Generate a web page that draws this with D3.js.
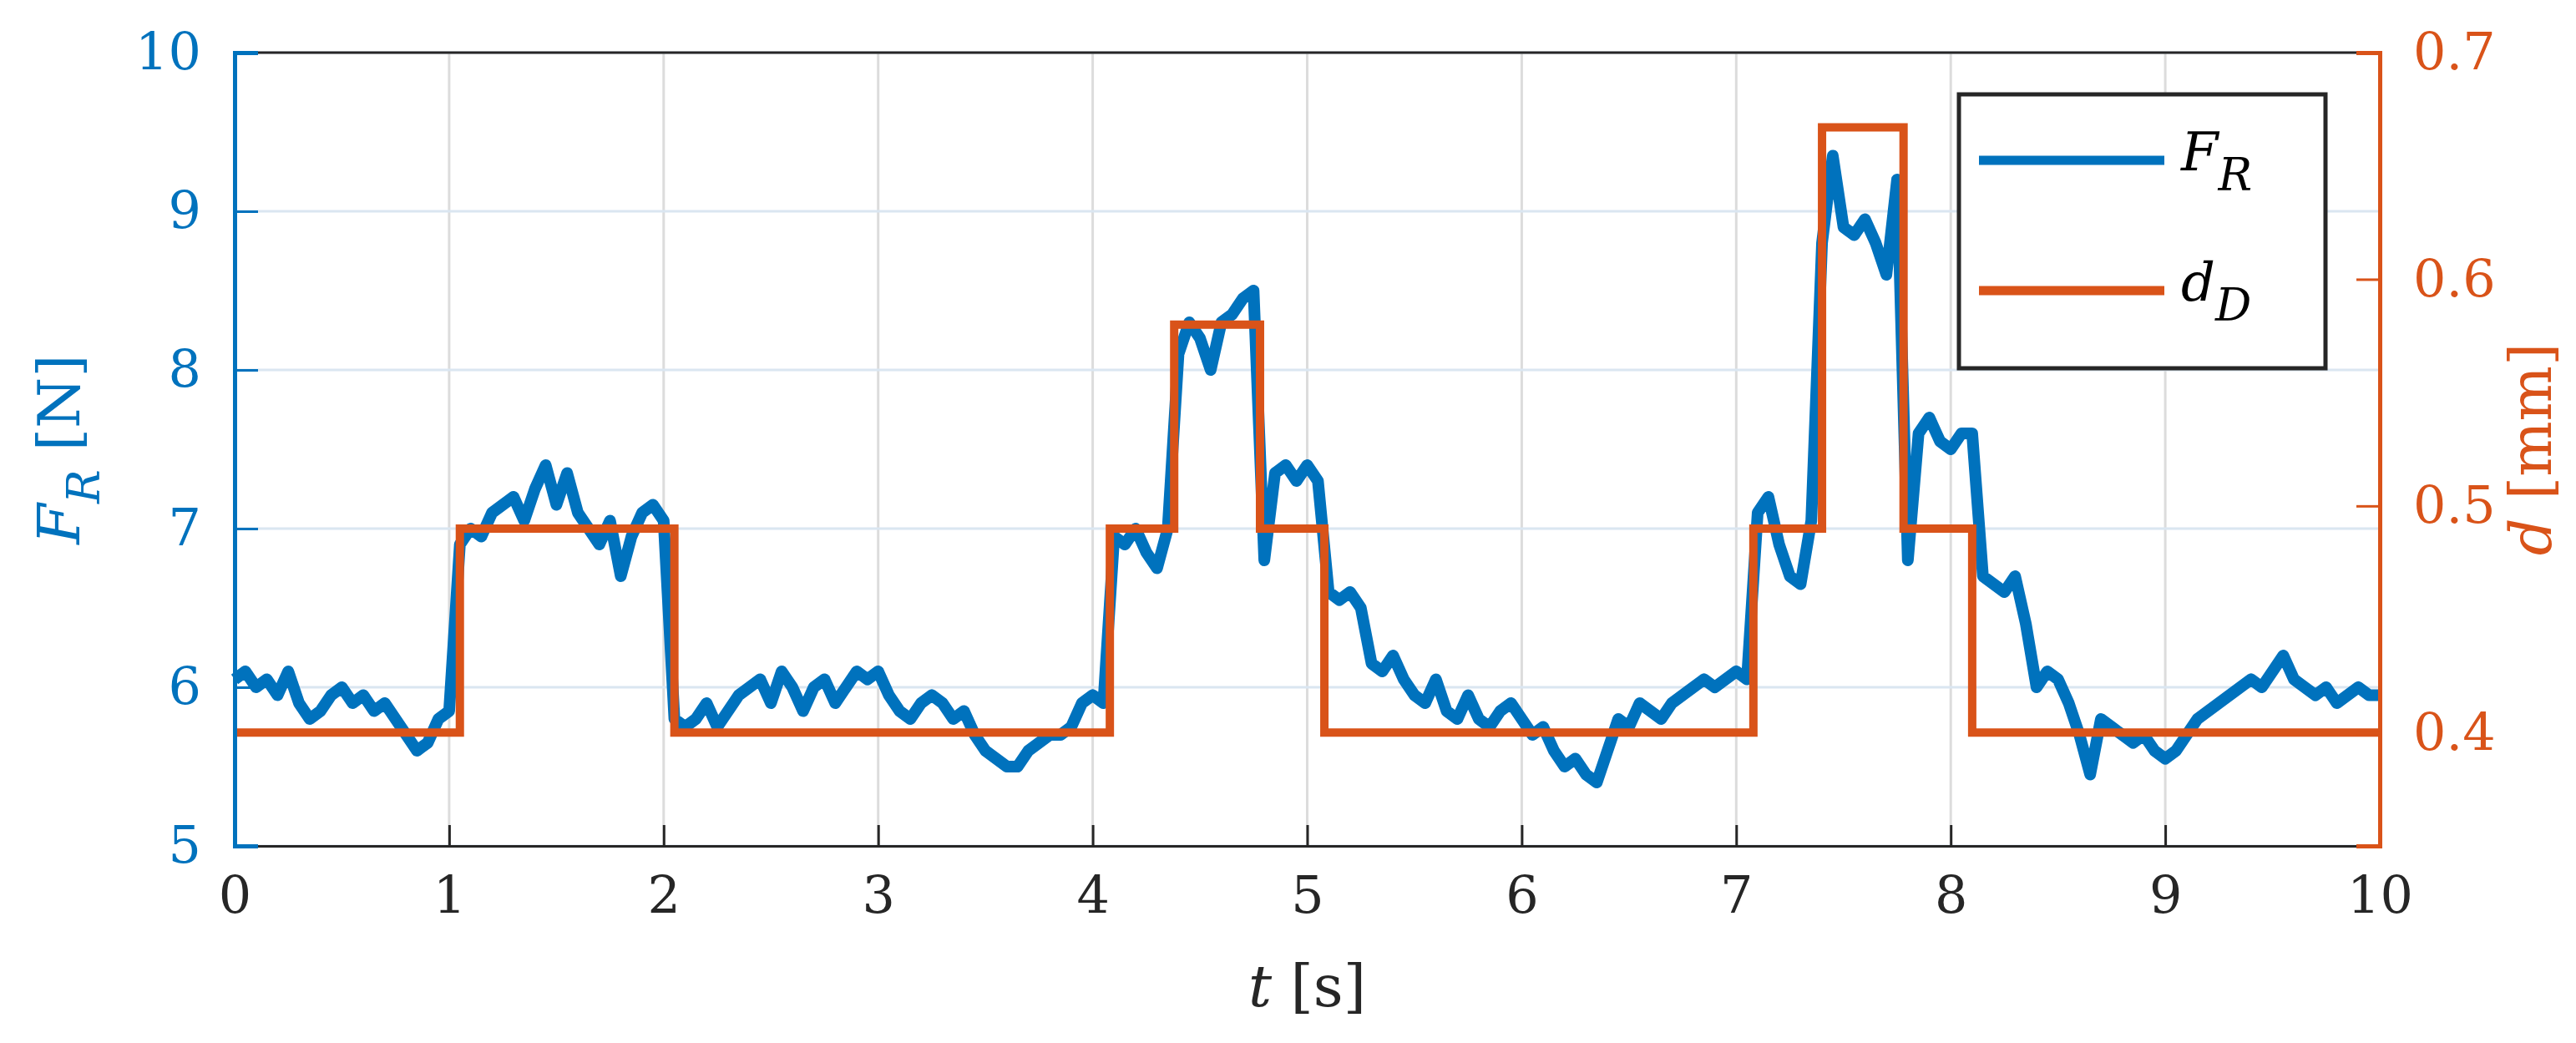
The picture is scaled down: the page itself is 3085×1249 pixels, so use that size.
<!DOCTYPE html>
<html><head><meta charset="utf-8">
<script src="https://d3js.org/d3.v7.min.js"></script>
<style>body{margin:0;background:#fff}text{font-family:"DejaVu Serif",serif}</style>
</head><body><svg id="c" width="3085" height="1249"></svg>
<script>
// force F_R [N], sampled every 0.05 s
var forceVals=[
6.05,6.1,6.0,6.05,5.95,6.1,5.9,5.8,5.85,5.95,6.0,5.9,5.95,5.85,5.9,5.8,5.7,5.6,5.65,5.8,
5.85,6.9,7.0,6.95,7.1,7.15,7.2,7.05,7.25,7.4,7.15,7.35,7.1,7.0,6.9,7.05,6.7,6.95,7.1,7.15,
7.05,5.8,5.75,5.8,5.9,5.75,5.85,5.95,6.0,6.05,5.9,6.1,6.0,5.85,6.0,6.05,5.9,6.0,6.1,6.05,
6.1,5.95,5.85,5.8,5.9,5.95,5.9,5.8,5.85,5.7,5.6,5.55,5.5,5.5,5.6,5.65,5.7,5.7,5.75,5.9,
5.95,5.9,6.95,6.9,7.0,6.85,6.75,7.0,8.1,8.3,8.2,8.0,8.3,8.35,8.45,8.5,6.8,7.35,7.4,7.3,
7.4,7.3,6.6,6.55,6.6,6.5,6.15,6.1,6.2,6.05,5.95,5.9,6.05,5.85,5.8,5.95,5.8,5.75,5.85,5.9,
5.8,5.7,5.75,5.6,5.5,5.55,5.45,5.4,5.6,5.8,5.75,5.9,5.85,5.8,5.9,5.95,6.0,6.05,6.0,6.05,
6.1,6.05,7.1,7.2,6.9,6.7,6.65,7.05,8.8,9.35,8.9,8.85,8.95,8.8,8.6,9.2,6.8,7.6,7.7,7.55,
7.5,7.6,7.6,6.7,6.65,6.6,6.7,6.4,6.0,6.1,6.05,5.9,5.7,5.45,5.8,5.75,5.7,5.65,5.7,5.6,
5.55,5.6,5.7,5.8,5.85,5.9,5.95,6.0,6.05,6.0,6.1,6.2,6.05,6.0,5.95,6.0,5.9,5.95,6.0,5.95,
5.95];
var forceDt=0.05;
// displacement d_D [mm], steps
var stepTimes=[0,1.05,2.05,4.08,4.38,4.78,5.08,7.08,7.4,7.78,8.1,10];
var stepVals=[0.4,0.49,0.4,0.49,0.58,0.49,0.4,0.49,0.667,0.49,0.4,0.4];
var xTicks=[0,1,2,3,4,5,6,7,8,9,10];
var yLeftTicks=[5,6,7,8,9,10];
var yRightTicks=[0.4,0.5,0.6,0.7];

var blue="#0072BD",orange="#D95319";
var L=281,R=2850,T=63,B=1013;
var svg=d3.select("#c");
var x=d3.scaleLinear().domain([0,10]).range([L,R]);
var yl=d3.scaleLinear().domain([5,10]).range([B,T]);
var yr=d3.scaleLinear().domain([0.35,0.7]).range([B,T]);

svg.selectAll(".gx").data(xTicks).enter().append("line")
  .attr("x1",d=>x(d)).attr("x2",d=>x(d)).attr("y1",T).attr("y2",B)
  .attr("stroke","#dcdcdc").attr("stroke-width",3);
svg.selectAll(".gy").data(yLeftTicks).enter().append("line")
  .attr("x1",L).attr("x2",R).attr("y1",d=>yl(d)).attr("y2",d=>yl(d))
  .attr("stroke","#dae6f1").attr("stroke-width",3);

var fLine=d3.line().x((d,i)=>x(i*forceDt)).y(d=>yl(d));
svg.append("path").datum(forceVals).attr("d",fLine).attr("fill","none")
  .attr("stroke",blue).attr("stroke-width",14).attr("stroke-linejoin","round");
var dLine=d3.line().curve(d3.curveStepAfter).x((d,i)=>x(stepTimes[i])).y(d=>yr(d));
svg.append("path").datum(stepVals).attr("d",dLine).attr("fill","none")
  .attr("stroke",orange).attr("stroke-width",10);

// frame
svg.append("line").attr("x1",L).attr("x2",R).attr("y1",T).attr("y2",T).attr("stroke","#262626").attr("stroke-width",3);
var gx=svg.append("g").attr("transform","translate(0,"+B+")")
  .call(d3.axisBottom(x).tickValues(xTicks).tickSize(-25).tickPadding(36).tickFormat(d3.format("d")));
gx.select(".domain").attr("stroke","#262626").attr("stroke-width",3);
gx.selectAll(".tick line").attr("stroke","#262626").attr("stroke-width",3);
gx.selectAll("text").attr("fill","#262626").style("font-size","62px").style("font-family","DejaVu Serif");
var gl=svg.append("g").attr("transform","translate("+L+",0)")
  .call(d3.axisLeft(yl).tickValues(yLeftTicks).tickSize(-28).tickPadding(40).tickFormat(d3.format("d")));
gl.select(".domain").attr("stroke",blue).attr("stroke-width",5);
gl.selectAll(".tick line").attr("stroke",blue).attr("stroke-width",3);
gl.selectAll("text").attr("fill",blue).style("font-size","62px").style("font-family","DejaVu Serif");
var gr=svg.append("g").attr("transform","translate("+R+",0)")
  .call(d3.axisRight(yr).tickValues(yRightTicks).tickSize(-28).tickPadding(40).tickFormat(d3.format(".1f")));
gr.select(".domain").attr("stroke",orange).attr("stroke-width",5);
gr.selectAll(".tick line").attr("stroke",orange).attr("stroke-width",3);
gr.selectAll("text").attr("fill",orange).style("font-size","62px").style("font-family","DejaVu Serif");

// axis titles
var xt=svg.append("text").attr("x",(L+R)/2).attr("y",1205).attr("text-anchor","middle")
  .attr("fill","#262626").style("font-size","70px");
xt.append("tspan").attr("font-style","italic").text("t");
xt.append("tspan").text(" [s]");
var lt=svg.append("text").attr("transform","translate(95,"+(T+B)/2+") rotate(-90)")
  .attr("text-anchor","middle").attr("fill",blue).style("font-size","70px");
lt.append("tspan").attr("font-style","italic").text("F");
lt.append("tspan").attr("font-style","italic").attr("dy",24).style("font-size","54px").text("R");
lt.append("tspan").attr("dy",-24).text(" [N]");
var rt=svg.append("text").attr("transform","translate(3055,"+(T+B)/2+") rotate(-90)")
  .attr("text-anchor","middle").attr("fill",orange).style("font-size","70px");
rt.append("tspan").attr("font-style","italic").text("d");
rt.append("tspan").text(" [mm]");

// legend
var lg=svg.append("g");
lg.append("rect").attr("x",2346).attr("y",113).attr("width",439).attr("height",328)
  .attr("fill","#fff").attr("stroke","#262626").attr("stroke-width",5);
var legItems=[{c:blue,m:"F",s:"R",y:192},{c:orange,m:"d",s:"D",y:348}];
legItems.forEach(function(it){
  lg.append("line").attr("x1",2370).attr("x2",2592).attr("y1",it.y).attr("y2",it.y)
    .attr("stroke",it.c).attr("stroke-width",11);
  var t=lg.append("text").attr("x",2612).attr("y",it.y+12).attr("fill","#000").style("font-size","64px").attr("font-style","italic");
  t.append("tspan").text(it.m);
  t.append("tspan").attr("dy",24).style("font-size","54px").text(it.s);
});
</script></body></html>
